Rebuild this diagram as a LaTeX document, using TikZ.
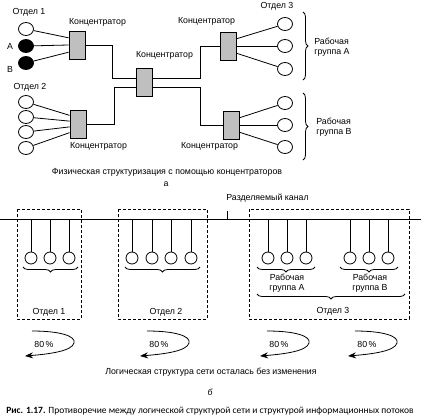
\documentclass[tikz,border=0pt]{standalone}
\usepackage{fontspec}
\setmainfont{Liberation Sans}
\newfontfamily\capfont{Carlito}
\usetikzlibrary{shapes.geometric,arrows.meta,positioning,calc,decorations.pathreplacing}

\tikzset{
  hubbox/.style={draw,fill=gray!50,minimum width=16pt,minimum height=28pt,inner sep=0pt},
  pcw/.style={draw,ellipse,fill=white,minimum width=15pt,minimum height=13pt,inner sep=0pt},
  pcb/.style={pcw,fill=black},
  stn/.style={draw,circle,fill=white,minimum size=12pt,inner sep=0pt},
  lbl/.style={font=\fontsize{8.8}{10.5}\selectfont,inner sep=1pt},
  grpbox/.style={draw,dash pattern=on 3pt off 2pt},
  brc/.style={decorate,decoration={brace,amplitude=5pt}},
  flow/.style={-{Stealth[length=8pt,width=6pt]}},
}

\begin{document}
\begin{tikzpicture}[x=1pt,y=-1pt,line width=0.8pt]
  \fill[white] (0,0) rectangle (421,418);
  \useasboundingbox (0,0) rectangle (421,418);

  % --- a: hubs ---
  \node[pcw] (p11) at (26,29) {};
  \node[pcb] (p12) at (26,46) {};
  \node[pcb] (p13) at (26,63) {};
  \node[lbl] at (29,12) {Отдел 1};
  \node[lbl] at (10,46) {А};
  \node[lbl] at (10,69) {В};

  \node[pcw] (p21) at (26,102) {};
  \node[pcw] (p22) at (26,117) {};
  \node[pcw] (p23) at (26,132) {};
  \node[pcw] (p24) at (26,148) {};
  \node[lbl] at (30,87) {Отдел 2};

  \node[pcw] (p31) at (285,24) {};
  \node[pcw] (p32) at (285,46) {};
  \node[pcw] (p33) at (285,69) {};
  \node[pcw] (p41) at (285,103) {};
  \node[pcw] (p42) at (285,125) {};
  \node[pcw] (p43) at (285,147) {};
  \node[lbl] at (277,6) {Отдел 3};

  \node[hubbox] (hubA) at (77,45) {};
  \node[hubbox] (hubB) at (78,124) {};
  \node[hubbox] (hubC) at (144,82) {};
  \node[hubbox] (hubD) at (228,46) {};
  \node[hubbox] (hubE) at (231,125) {};

  \node[lbl, above right=3pt and -1pt of hubA.north west] {Концентратор};
  \node[lbl, below right=3pt and -1pt of hubB.south west] {Концентратор};
  \node[lbl, above right=7pt and -1pt of hubC.north west] {Концентратор};
  \node[lbl, above left=5pt and 0pt of hubD.north east] {Концентратор};
  \node[lbl, below left=2pt and 0pt of hubE.south east] {Концентратор};

  \foreach \i/\f in {1/0.25,2/0.5,3/0.75}
    \draw (p1\i) -- ($(hubA.north west)!\f!(hubA.south west)$);
  \foreach \i/\f in {1/0.2,2/0.4,3/0.6,4/0.8}
    \draw (p2\i) -- ($(hubB.north west)!\f!(hubB.south west)$);
  \foreach \i/\f in {1/0.25,2/0.5,3/0.75} {
    \draw (p3\i) -- ($(hubD.north east)!\f!(hubD.south east)$);
    \draw (p4\i) -- ($(hubE.north east)!\f!(hubE.south east)$);
  }

  \draw (hubA.east) -- ++(27,0) |- ([yshift=4pt]hubC.west);
  \draw (hubB.east) -- ++(28,0) |- ([yshift=-5pt]hubC.west);
  \draw ([yshift=4pt]hubC.east) -- ++(48,0) |- (hubD.west);
  \draw ([yshift=-5pt]hubC.east) -- ++(48,0) |- (hubE.west);

  \draw[brc] (303,12) -- (303,80);
  \draw[brc] (303,93) -- (303,160);
  \node[lbl, anchor=west, align=left] at (313,47) {Рабочая\\группа А};
  \node[lbl, anchor=west, align=left] at (315,127) {Рабочая\\группа В};

  \node[lbl] at (167,172) {Физическая структуризация с помощью концентраторов};
  \node[lbl] at (166,184) {а};

  % --- b: shared channel ---
  \coordinate (busL) at (0,219);
  \coordinate (busR) at (421,219);
  \draw[line width=1pt] (busL) -- (busR);
  \coordinate (tick) at (227,211);
  \draw (tick) -- (tick |- busL);
  \node[lbl, anchor=west] at (225,198) {Разделяемый канал};

  \draw[grpbox] (17,209) rectangle (81,319);
  \draw[grpbox] (118,209) rectangle (207,319);
  \draw[grpbox] (249,209) rectangle (409,319);

  \foreach \x [count=\i] in {31,50,69} {
    \node[stn] (s1\i) at (\x,258) {};
    \draw (s1\i) -- (s1\i |- busL);
  }
  \foreach \x [count=\i] in {132,152,171,191} {
    \node[stn] (s2\i) at (\x,258) {};
    \draw (s2\i) -- (s2\i |- busL);
  }
  \foreach \x [count=\i] in {268,287,306} {
    \node[stn] (s3\i) at (\x,258) {};
    \draw (s3\i) -- (s3\i |- busL);
  }
  \foreach \x [count=\i] in {350,369,388} {
    \node[stn] (s4\i) at (\x,258) {};
    \draw (s4\i) -- (s4\i |- busL);
  }

  \draw[brc] (78,267) -- (23,267);
  \draw[brc] (200,267) -- (125,267);
  \draw[brc] (315,267) -- (257,267);
  \draw[brc] (398,267) -- (340,267);
  \draw[brc] (405,294) -- (257,294);

  \node[lbl, align=center] at (287,283) {Рабочая\\группа А};
  \node[lbl, align=center] at (370,283) {Рабочая\\группа В};
  \node[lbl] at (49,312) {Отдел 1};
  \node[lbl] at (166,312) {Отдел 2};
  \node[lbl] at (333,311) {Отдел 3};

  % traffic loops
  \foreach \x in {0,115,235,323} {
    \begin{scope}[shift={(\x,0)}]
      \draw[flow] (32,331) .. controls (60,331) and (76,336) .. (74,343)
                          .. controls (72,351) and (50,354) .. (25,356);
      \node[lbl] at (44,344) {80\,\%};
    \end{scope}
  }

  \node[lbl] at (211,372) {Логическая структура сети осталась без изменения};
  \node[lbl] at (210,392) {\itshape б};
  \node[font=\capfont\fontsize{9.5}{11}\selectfont] at (210,411)
    {{\bfseries Рис. 1.17.} Противоречие между логической структурой сети и структурой информационных потоков};
\end{tikzpicture}
\end{document}
